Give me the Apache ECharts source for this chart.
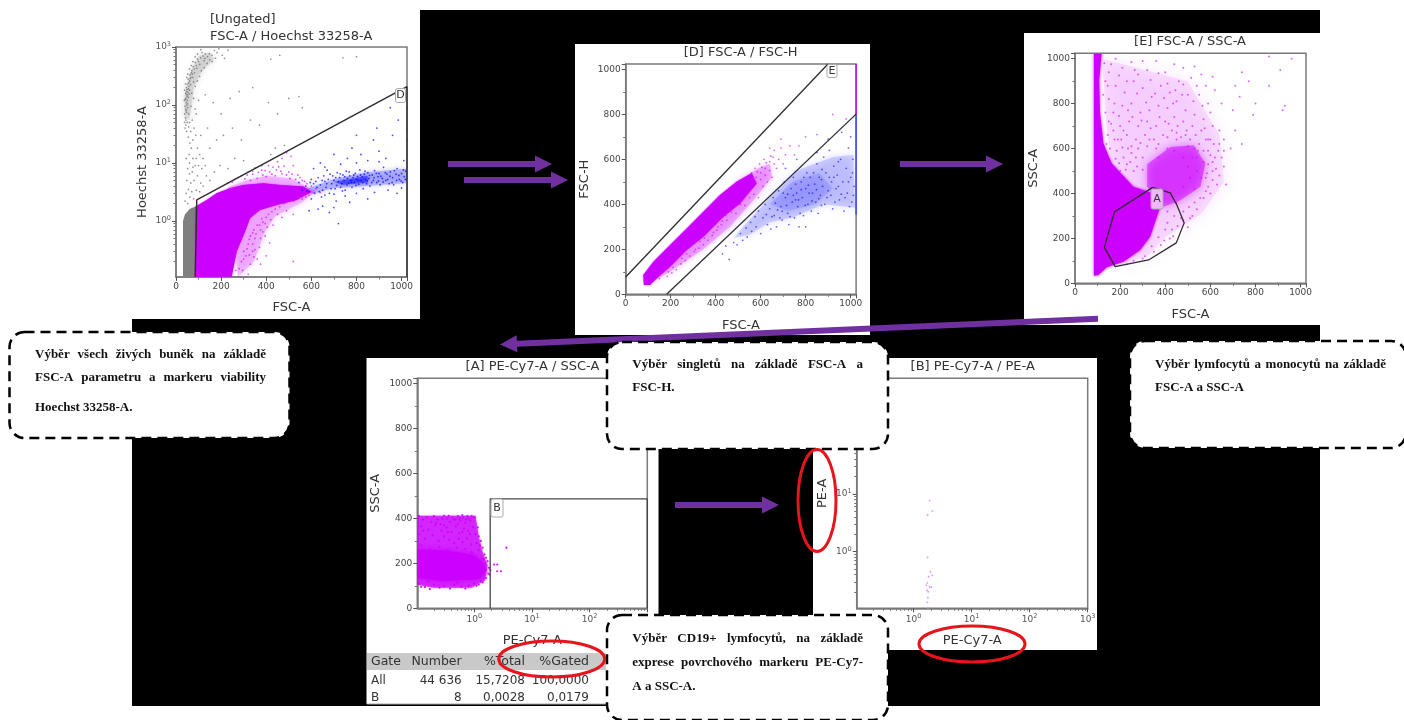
<!DOCTYPE html>
<html><head><meta charset="utf-8">
<style>html,body{margin:0;padding:0;background:#fff}#c{width:1404px;height:720px;filter:blur(.45px)}</style>
<script src="https://cdn.jsdelivr.net/npm/echarts@6/dist/echarts.min.js"></script></head>
<body><div id="c"></div>
<script>
/* ---------- values ---------- */
const linearTicks=[0,200,400,600,800,1000];
const tableHeader=['Gate','Number','%Total','%Gated'];
const tableRows=[['All','44 636','15,7208','100,0000'],['B','8','0,0028','0,0179']];

/* panel 1: FSC-A / Hoechst */
const p1GrayCore=[[31,.108],[31,1],[40,1.3],[60,1.6],[88,1.8],[88,.108]];
const p1GrayHalo=[[38,60],[60,55],[80,200],[115,380],[170,620],[150,800],[100,700],[62,350],[38,150]];
const p1Magenta=[[87,1.77],[136,2.3],[180,3],[239,3.66],[298,4.18],[387,4.46],[461,4.18],[564,3.91],[601,3.2],[535,2.3],[446,1.89],[372,1.55],[328,1.11],[306,.655],[269,.296],[247,.11],[84,.108]];
const p1MagentaHalo=[[230,3.8],[310,5],[400,6],[510,5.4],[620,3.3],[560,2.1],[440,1.2],[395,.65],[345,.2],[275,.108]];
const p1BlueHalo=[[570,3.5],[700,5.3],[850,7],[1024,8],[1024,4.5],[850,4],[700,3.7],[600,2.9]];
const p1BlueCore=[[700,4.7],[850,6],[850,4.6],[740,4.2]];
const p1Gate=[[85,.108],[92,2.3],[1024,207],[1024,.108]];
const p1GrayPts=[[42,60],[45,80],[48,100],[40,95],[50,120],[44,130],[52,150],[47,170],[55,190],[43,160],[58,210],[50,230],[60,260],[54,280],[66,300],[72,340],[62,330],[70,390],[80,420],[76,460],[90,480],[85,540],[100,560],[95,620],[110,650],[120,700],[130,760],[115,800],[140,680],[150,600],[160,720],[175,640],[45,110],[49,140],[53,165],[57,240],[63,285],[68,360],[74,300],[82,360],[92,430],[105,500],[125,580],[60,180],[65,225],[38,70],[41,125],[46,200],[52,90],[56,70],[60,50],[50,50],[44,45],[47,35],[55,28],[62,22],[68,18],[58,14],[45,12],[75,12],[52,8],[60,6.5],[72,7],[85,9],[48,5],[66,4.5],[80,5],[95,6],[110,4.5],[55,3.5],[70,3.2],[90,3.4],[105,3.2],[45,3],[62,2.6],[78,2.4],[40,2.2],[52,2],[120,4],[135,6],[150,5],[170,7],[195,9],[230,8],[260,12],[300,11],[340,7.2],[380,9],[420,14],[440,18],[480,20],[120,12],[150,18],[180,25],[210,30],[250,40],[290,25],[330,55],[370,45],[410,110],[450,70],[500,130],[545,140],[560,90],[140,40],[110,30],[90,70],[100,120],[130,150],[165,110],[200,70],[240,130],[280,170],[340,200],[420,620],[460,720],[800,680],[740,650],[110,900],[190,930],[40,40],[47,75],[51,105],[43,85],[46,150],[55,135],[49,185],[59,155],
 [75,25],[88,30],[65,35],[80,40],[95,18],[105,14],[60,10],[90,12],[115,8],[75,8.5],[130,9],[100,9],[56,42],[72,55],[85,85],[66,95],[78,130],[70,160],[85,210],[95,260],[78,250],[105,310],[112,390],[125,440],[138,520],[160,560],[128,640],[148,760],[182,800],[205,720],[215,640],[230,880],[170,870],[95,760],[85,680],[75,560],[68,480],[60,420],[52,340],[48,300],[42,230],[38,180],[37,120],[44,55],[38,50]];
const p1MagentaPts=[[230,4.5],[260,5.2],[290,6],[320,7],[350,8.2],[380,7.5],[410,9],[430,8.5],[450,10.5],[470,12],[490,15],[510,13],[520,9],[500,7],[470,6.5],[440,6],[400,5.8],[360,5.4],[330,5],[540,6.2],[560,5],[580,4.4],[600,4],[620,3.6],[640,3.1],[590,2.8],[560,2.4],[520,2.2],[480,2],[440,1.6],[410,1.3],[380,1.1],[360,.85],[345,.7],[330,.55],[320,.4],[300,.3],[290,.2],[280,.15],[340,.3],[360,.22],[350,.5],[375,.7],[395,.9],[420,1.05],[450,1.3],[490,1.5],[340,.4],[310,.25],[330,.18],[370,.35],[400,.25],[395,.55],[520,.2],[1024,90],[1024,40],[1024,25],
 [250,4.7],[275,5.6],[305,5.3],[315,6.2],[340,6.4],[365,6.9],[385,6.2],[395,7.4],[415,7],[425,6.4],[445,7.6],[455,8.6],[465,7.2],[480,8.8],[490,6.2],[505,5.4],[515,6.4],[530,5.2],[550,5.6],[570,4.8],[610,3.1],[575,2.6],[545,2.7],[505,2.5],[460,1.75],[425,1.45],[400,1.15],[385,.95],[370,.85],[355,.6],[340,.62],[325,.48],[315,.33],[300,.22],[265,.14],[295,.14],[325,.26],[345,.24],[375,.5],[385,.65],[405,.78],[430,.85],[470,1.15],[520,1.3],[350,.32],[375,.18],[415,.42],[320,.12]];
const p1BluePts=[[545,4.6],[560,3.4],[575,4],[590,3.2],[600,5.2],[610,4.4],[615,3],[625,3.8],[630,5.6],[640,4.2],[645,2.6],[650,3.4],[655,6],[660,4.8],[665,3.8],[670,7.5],[675,5.2],[680,3],[690,4.4],[695,6],[700,5],[705,3.6],[710,2.2],[715,6.8],[720,4.8],[725,5.6],[730,3.8],[735,4.4],[740,6.2],[745,5],[750,3.4],[755,7.2],[760,5.4],[765,4.5],[770,6],[775,5],[780,3.8],[785,5.6],[790,4.6],[795,6.6],[800,5.2],[805,5.8],[810,4.3],[815,7.6],[820,5],[825,5.8],[830,3.6],[835,6.4],[840,5.2],[845,4.4],[850,6.8],[855,5.4],[860,4],[870,6.2],[875,5],[880,7.4],[890,4.6],[895,5.8],[900,6.6],[905,4.2],[915,5.4],[920,8.4],[930,5],[935,6.4],[945,4.4],[950,7],[960,5.6],[965,4.2],[975,6.4],[980,8],[990,5.2],[1000,6.6],[1005,4.6],[1012,5.8],[1018,7.2],[700,14],[640,10],[610,8],[760,12],[780,18],[820,14],[850,11],[875,25],[900,16],[930,12],[960,30],[985,55],[950,90],[890,40],[800,30],[700,1.7],[680,1.4],[650,1.8],[720,.9],[590,1.5],[630,1.6],[770,2.1],[850,2.4],[980,3],
 [580,3.3],[595,4.6],[620,4.8],[635,3.2],[648,5],[668,4.4],[683,6.4],[688,3.6],[708,5.6],[712,4.1],[728,6.5],[738,3.3],[748,5.8],[758,4.2],[768,7],[778,4.6],[788,6.2],[798,4.1],[808,5],[818,6.2],[828,4.6],[838,7.2],[848,4.9],[858,6.1],[868,4.6],[878,5.6],[888,6.6],[898,4.9],[908,5.9],[918,4.7],[928,6.8],[938,5.2],[948,5.9],[958,4.6],[968,7.4],[978,5],[988,6.1],[998,4.9],[1008,7.6],[1016,5.2],[600,2.4],[660,2.8],[700,2.9],[750,2.7],[800,3],[880,3.1],[940,3.4],[1000,3.7],[660,8.5],[730,9.5],[800,10],[900,10.5],[1010,11]];

/* panel 2: FSC-A / FSC-H */
const p2GateUpper=[[0,77],[899,1024]];
const p2GateLower=[[182,0],[1024,801]];
const p2EdgeMagenta=[[1024,1024],[1024,800]];
const p2EdgeBlue=[[1024,800],[1024,355]];
const p2Core=[[78,86],[123,145],[197,219],[271,293],[345,367],[419,441],[493,500],[560,538],[582,493],[508,404],[434,345],[345,256],[271,197],[197,123],[138,71],[108,41],[81,41]];
const p2Halo=[[100,45],[197,100],[345,200],[464,300],[570,420],[650,520],[640,580],[590,560],[500,505]];
const p2BlueHalo=[[480,250],[540,320],[640,430],[760,550],[920,610],[1012,620],[1020,385],[880,400],[740,340],[640,320],[550,265]];
const p2BlueCore=[[640,400],[740,500],[860,540],[920,470],[840,400],[720,370]];
const p2MagentaPts=[[150,70],[170,110],[190,100],[210,120],[230,165],[250,160],[270,180],[290,215],[310,200],[330,235],[350,250],[370,290],[390,275],[410,300],[430,325],[450,330],[470,365],[490,360],[510,400],[530,395],[550,430],[570,445],[590,430],[610,480],[630,500],[650,520],[620,560],[640,590],[600,540],[580,520],[660,640],[690,650],[710,620],[770,660],[800,700],[850,710],[920,800],[980,780],[730,660],[750,620],[700,580],[670,560],[690,690],[640,650],[560,540],[575,560],[595,580],[615,600],[655,610],[680,600],
 [600,510],[620,530],[640,550],[660,580],[585,545],[605,565],[625,585],[645,615],[565,515],[545,470],[525,450],[505,420],[485,395],[465,375],[445,350],[425,310],[405,285],[385,262],[365,240],[345,220],[325,205],[305,190],[285,170],[265,150],[245,135],[225,110],[205,95],[185,80]];
const p2BluePts=[[430,180],[445,215],[460,155],[480,230],[495,220],[510,270],[520,240],[535,295],[540,255],[555,320],[560,280],[575,345],[580,300],[590,370],[600,270],[610,340],[620,400],[630,310],[640,380],[645,290],[655,430],[660,350],[670,300],[680,460],[690,390],[695,330],[705,500],[710,430],[720,360],[725,310],[735,470],[740,410],[745,520],[750,340],[760,450],[765,390],[770,300],[780,500],[785,430],[790,350],[800,470],[805,540],[810,400],[820,520],[825,370],[830,450],[840,490],[845,410],[850,580],[855,360],[860,520],[865,440],[875,480],[880,610],[885,400],[890,540],[900,460],[905,640],[915,500],[920,380],[925,570],[935,470],[940,530],[950,420],[955,600],[965,500],[970,370],[980,560],[985,450],[990,650],[1000,520],[1005,410],[1010,600],[1015,480],[900,690],[960,720],[1000,700],[850,630],[800,300],[710,560],[760,600],
 [625,355],[650,345],[665,405],[675,375],[685,340],[700,450],[715,395],[730,345],[745,440],[755,490],[768,420],[775,360],[792,520],[798,395],[815,450],[828,415],[835,540],[848,465],[858,425],[870,395],[872,555],[895,430],[905,520],[912,440],[930,410],[945,480],[958,445],[975,430],[990,500],[995,390],[1012,440],[1008,540],[945,590],[925,520],[870,510],[812,485],[780,465],[755,420],[720,445],[695,370]];

/* panel 3: FSC-A / SSC-A */
const p3Core=[[84,34],[84,1022],[118,1022],[107,904],[111,756],[126,622],[163,533],[259,430],[348,400],[393,385],[378,341],[348,252],[333,207],[289,148],[215,96],[141,71],[104,37]];
const p3UpperBlob=[[320,530],[422,607],[526,615],[578,533],[556,430],[467,370],[393,341],[320,430]];
const p3Halo=[[120,1000],[500,900],[640,660],[660,450],[560,310],[393,200],[333,130],[215,80],[140,700]];
const p3Gate=[[344,427],[422,403],[452,348],[484,269],[449,180],[326,104],[178,74],[130,160],[175,318],[344,427]];
const p3Pts=[[130,980],[150,940],[180,1000],[210,960],[250,985],[280,930],[320,950],[360,990],[400,940],[440,975],[480,960],[530,965],[560,930],[610,920],[710,880],[860,1010],[960,1000],[910,950],[860,880],[740,940],[770,900],[730,830],[930,790],[920,770],[800,800],[790,750],[700,770],[660,640],[690,600],[740,620],[710,680],[650,800],[620,860],[590,800],[540,880],[500,840],[460,900],[420,850],[380,880],[340,830],[300,870],[260,900],[220,850],[180,880],[150,820],[135,760],[170,760],[210,790],[250,800],[290,760],[330,770],[370,790],[410,780],[450,810],[490,770],[530,750],[570,730],[610,700],[640,680],[600,640],[560,680],[520,700],[480,720],[440,740],[400,720],[360,700],[320,720],[280,700],[240,720],[200,700],[170,680],[145,660],[190,640],[230,660],[270,640],[310,660],[350,640],[390,660],[430,680],[470,650],[510,640],[550,620],[590,590],[620,560],[660,520],[640,480],[670,440],[610,500],[590,430],[570,380],[540,330],[510,290],[480,320],[590,530],[560,470],[530,420],[155,600],[185,590],[215,560],[250,580],[280,600],[320,610],[360,600],[200,500],[230,530],[260,500],[500,250],[520,300],[470,290],[400,240],[420,200],[380,170],[350,140],[310,120],[600,400],[630,440],[650,560],[580,640],[540,560],[500,610],[450,640],[410,600],[370,560],[300,560],[270,560],[235,600],[540,500],[510,470],[480,430],[450,360],[440,300],[410,320],[580,470],[610,540],[480,560],[440,590],[150,720],[125,840],[135,900],[175,800],[205,640],
 [145,880],[160,975],[195,925],[230,900],[265,950],[300,990],[335,905],[370,935],[410,890],[445,860],[480,885],[515,915],[550,840],[580,880],[600,760],[565,790],[525,810],[475,840],[435,800],[395,825],[355,845],[315,805],[275,845],[235,770],[195,745],[160,710],[140,620],[175,640],[215,680],[255,740],[295,725],[335,690],[375,740],[415,710],[455,700],[495,680],[535,660],[575,690],[615,620],[635,590],[600,570],[570,540],[530,600],[490,660],[450,670],[410,650],[370,620],[330,640],[290,625],[250,610],[210,605],[180,555],[195,535],[225,505],[245,540],[275,520],[300,505],[580,410],[555,380],[530,360],[505,340],[480,280],[455,255],[430,240],[410,270],[435,210],[395,190],[370,205],[340,165],[300,110],[260,100],[230,85],[610,460],[625,510],[585,490],[570,590],[520,560],[545,590],[500,520],[590,640],[640,620],[660,590]];

/* panel 4: PE-Cy7-A / SSC-A */
const p4Core=[[.103,262],[.291,258],[.96,240],[1.4,205],[1.65,170],[1.25,130],[.291,122],[.103,135]];
const p4Halo=[[.103,412],[1.05,412],[1.2,320],[1.4,250],[1.7,190],[1.55,125],[.9,92],[.2,92],[.103,105]];
const p4Gate=[[1.89,0],[1.89,487],[1000,487],[1000,0]];
const p4Pts=[[.11,410],[.13,395],[.15,405],[.18,385],[.2,410],[.23,395],[.26,375],[.3,412],[.34,400],[.38,385],[.42,405],[.47,395],[.52,410],[.58,390],[.65,405],[.72,395],[.8,400],[.9,410],[1,405],[.12,365],[.16,350],[.21,370],[.27,345],[.33,360],[.4,340],[.48,365],[.55,335],[.66,355],[.78,345],[.95,360],[1.05,330],[1.2,320],[1.3,300],[.11,330],[.14,310],[.19,325],[.24,300],[.3,320],[.37,305],[.45,290],[.54,310],[.63,295],[.75,310],[.88,285],[1.1,290],[.12,280],[.17,265],[.25,275],[.35,260],[.5,270],[.7,265],[.9,250],[1.2,260],[1.4,270],[1.5,240],[1.6,225],[1.7,210],[1.8,180],[1.9,170],[2.2,195],[2.5,165],[2.9,165],[3.6,270],[2.5,195],[1.85,150],[1.6,135],[1.3,120],[1,110],[.8,100],[.6,95],[.45,105],[.3,98],[.2,105],[.14,95],[.11,110],[.16,120],[.5,115],[.9,130],[1.2,105],
 [.28,400],[.36,412],[.44,395],[.56,400],[.62,415],[.76,410],[.85,390],[.22,380],[.3,370],[.52,375],[.7,380],[.13,345],[.35,340],[.62,340],[.84,330],[1.15,360],[1.25,280],[1.45,220],[1.55,200],[1.75,155],[1.4,115],[1.1,100],[.7,88],[.38,88],[.25,92],[.17,85],[.12,95]];

/* panel 5: PE-Cy7-A / PE-A */
const p5Pts=[[1.89,7.66],[2.11,5.07],[1.75,4.32],[1.75,.8],[1.95,.45],[2.11,.39],[1.82,.37],[1.73,.29],[1.66,.265],[1.89,.247],[2.03,.244],[1.7,.216],[1.79,.203],[1.77,.16],[1.73,.133],[1.77,.107],[1.84,.104],[3.6,.104]];

/* ---------- styling ---------- */
const MAG='#cc00ff',BLUE='#0000ff',GRAY='#808080',INK='#333',FONT='"DejaVu Sans"',PURPLE='#7030a0',RED='#e8141c';
const grids=[
 {left:176,top:47,width:231,height:230},
 {left:625.7,top:64,width:230.4,height:230.3},
 {left:1075,top:53.3,width:231,height:230},
 {left:417.3,top:378.3,width:230,height:230},
 {left:856.7,top:378.3,width:231,height:230}
].map(g=>({...g,show:true,borderColor:'#7a7a7a',borderWidth:1.5,backgroundColor:'transparent',containLabel:false}));
const majors=[1,10,100,1000];
const minors=[];[.1,1,10,100].forEach(d=>[2,3,4,5,6,7,8,9].forEach(m=>minors.push(+(m*d).toFixed(3))));
const powFmt=v=>`{b|10}{s|${Math.round(Math.log10(v))}}`;
const rich={b:{fontSize:9,color:'#555',fontFamily:FONT},s:{fontSize:6.5,color:'#555',fontFamily:FONT,verticalAlign:'bottom',padding:[0,0,5,0]}};
const nameStyle={fontFamily:FONT,fontSize:13,color:INK};
function linAxis(g,name,gap){return {type:'value',gridIndex:g,min:0,max:1024,interval:200,name,nameLocation:'middle',nameGap:gap,nameTextStyle:nameStyle,
  splitLine:{show:false},axisLine:{onZero:false,lineStyle:{color:'#7a7a7a',width:1.5}},axisTick:{length:4,lineStyle:{color:'#555'}},minorTick:{show:true,splitNumber:2,length:2.5,lineStyle:{color:'#777'}},
  axisLabel:{fontFamily:FONT,fontSize:9,color:'#444',margin:5,showMaxLabel:true,formatter:v=>linearTicks.includes(v)?String(v):''}};}
function logAxis(g,name,gap,min,labels){return {type:'log',logBase:10,gridIndex:g,min,max:1000,name,nameLocation:'middle',nameGap:gap,nameTextStyle:nameStyle,
  splitLine:{show:false},axisLine:{onZero:false,lineStyle:{color:'#7a7a7a',width:1.5}},axisTick:{length:4,customValues:majors,lineStyle:{color:'#555'}},minorTick:{show:false},
  axisLabel:{customValues:labels,formatter:powFmt,rich,margin:5}};}
function minorAxis(g,min,pos){return {type:'log',logBase:10,gridIndex:g,min,max:1000,position:pos,offset:0,splitLine:{show:false},axisLine:{show:false,onZero:false},
  axisTick:{length:2.5,customValues:minors.filter(v=>v>=min),lineStyle:{color:'#777'}},axisLabel:{show:false}};}
const xAxis=[linAxis(0,'FSC-A',24.5),linAxis(1,'FSC-A',25),linAxis(2,'FSC-A',25),logAxis(3,'PE-Cy7-A',26,.103,[1,10,100]),logAxis(4,'PE-Cy7-A',26,.105,majors),minorAxis(3,.103,'bottom'),minorAxis(4,.105,'bottom')];
const yAxis=[logAxis(0,'Hoechst 33258-A',27,.108,majors),linAxis(1,'FSC-H',35),linAxis(2,'SSC-A',35),linAxis(3,'SSC-A',35),logAxis(4,'PE-A',28,.105,[1,10]),minorAxis(0,.108,'left'),minorAxis(4,.105,'left')];
function blob(g,pts,color,opacity,soft=0){return {type:'custom',xAxisIndex:g,yAxisIndex:g,data:pts,clip:true,silent:true,encode:{x:0,y:1},z:2,
  renderItem:(p,api)=>p.dataIndex===0?{type:'polygon',shape:{points:pts.map(q=>api.coord(q))},style:{fill:color,opacity,shadowBlur:soft,shadowColor:color}}:null};}
function dots(g,pts,color,size,opacity){return {type:'scatter',xAxisIndex:g,yAxisIndex:g,data:pts,symbolSize:size,silent:true,z:3,itemStyle:{color,opacity}};}
function path(g,pts,color,width,clip){return {type:'line',xAxisIndex:g,yAxisIndex:g,data:pts,showSymbol:false,symbol:'none',silent:true,clip:!!clip,z:4,lineStyle:{color,width}};}
const series=[
 blob(0,p1GrayHalo,GRAY,.22,7),dots(0,p1GrayPts,'#777',1.7,.8),blob(0,p1GrayCore,GRAY,1),
 blob(0,p1BlueHalo,BLUE,.2,6),blob(0,p1BlueCore,BLUE,.4,4),dots(0,p1BluePts,BLUE,1.8,.7),
 blob(0,p1MagentaHalo,MAG,.2,7),blob(0,p1Magenta,MAG,1,1.5),dots(0,p1MagentaPts,MAG,1.8,.65),path(0,p1Gate,'#2d2d2d',1.4),
 blob(1,p2BlueHalo,BLUE,.14,8),blob(1,p2BlueCore,BLUE,.1,10),dots(1,p2BluePts,BLUE,1.8,.6),blob(1,p2Halo,MAG,.25,6),blob(1,p2Core,MAG,1,1.5),dots(1,p2MagentaPts,MAG,1.8,.6),
 path(1,p2EdgeMagenta,MAG,1.5),path(1,p2EdgeBlue,'#3a50ff',1.5),path(1,p2GateUpper,'#2d2d2d',1.3),path(1,p2GateLower,'#2d2d2d',1.3),
 blob(2,p3Halo,MAG,.1,18),blob(2,p3UpperBlob,MAG,.5,10),blob(2,p3Core,MAG,1,3),dots(2,p3Pts,MAG,2,.6),path(2,p3Gate,'#2d2d2d',1.3),
 blob(3,p4Halo,MAG,.62,2),blob(3,p4Core,MAG,1,7),dots(3,p4Pts,MAG,2.2,.9),path(3,p4Gate,'#444',1.3),
 dots(4,p5Pts,'#e080ff',1.8,.9)
];
series.forEach(s=>s.animation=false);

/* titles */
const tStyle={fontFamily:FONT,fontSize:13,fontWeight:'normal',color:INK};
const title=[
 {text:'[Ungated]\nFSC-A / Hoechst 33258-A',left:210,top:11,padding:0,itemGap:0,textStyle:{...tStyle,lineHeight:17}},
 {text:'[D] FSC-A / FSC-H',left:740.7,top:46,padding:0,textAlign:'center',textStyle:tStyle},
 {text:'[E] FSC-A / SSC-A',left:1190,top:35,padding:0,textAlign:'center',textStyle:tStyle},
 {text:'[A] PE-Cy7-A / SSC-A',left:532.5,top:360,padding:0,textAlign:'center',textStyle:tStyle},
 {text:'[B] PE-Cy7-A / PE-A',left:972.7,top:360,padding:0,textAlign:'center',textStyle:tStyle}
];

/* overlays */
const g=[];
const rect=(x,y,w,h,fill,z,extra={})=>g.push({type:'rect',silent:true,z,shape:{x,y,width:w,height:h,r:extra.r||0},style:{fill,stroke:extra.stroke||null,lineWidth:extra.lw||0,lineDash:extra.dash||null}});
rect(132,10,1188,696,'#000',-10);
[[132,10,288,309],[575,44,295,291],[1024,33,296,292],[366.5,358,292,346],[813,358,284,292]].forEach(a=>rect(...a,'#fff',-9));
rect(367,653,239,17,'#c9c9c9',-8);
rect(367,703.5,239,1,'#aaa',-8);
[[371,'left'],[461.7,'right'],[525,'right'],[589,'right']].forEach(([x,al],c)=>{
  const t=(s,y,fs)=>g.push({type:'text',silent:true,z:9,style:{text:s,x,y,align:al,verticalAlign:'middle',fontFamily:FONT,fontSize:fs,fill:'#333'}});
  t(tableHeader[c],662,12.5);t(tableRows[0][c],680.5,12);t(tableRows[1][c],697.5,12);});
function arrow(tail,tip,sw=6,hw=17,hl=17){const dx=tip[0]-tail[0],dy=tip[1]-tail[1],L=Math.hypot(dx,dy),ux=dx/L,uy=dy/L,nx=-uy,ny=ux,bx=tip[0]-ux*hl,by=tip[1]-uy*hl;
  g.push({type:'polygon',silent:true,z:40,shape:{points:[[tail[0]+nx*sw/2,tail[1]+ny*sw/2],[bx+nx*sw/2,by+ny*sw/2],[bx+nx*hw/2,by+ny*hw/2],tip,[bx-nx*hw/2,by-ny*hw/2],[bx-nx*sw/2,by-ny*sw/2],[tail[0]-nx*sw/2,tail[1]-ny*sw/2]]},style:{fill:PURPLE}});}
arrow([448,164],[552,164]);arrow([464,180],[568,180]);arrow([900,164],[1003,164]);arrow([675,505],[779,505]);arrow([1098,318.7],[500,344.5]);
function gateTag(x,y,w,h,s,fill){g.push({type:'rect',silent:true,z:8,shape:{x:x-w/2,y:y-h/2,width:w,height:h,r:2},style:{fill,stroke:'#aaa',lineWidth:1}});
  g.push({type:'text',silent:true,z:9,style:{text:s,x,y,align:'center',verticalAlign:'middle',fontFamily:FONT,fontSize:11,fill:'#333'}});}
gateTag(400.5,95.5,10,14,'D','#fff');gateTag(832,71,10,13,'E','#fff');gateTag(1157,199,12,20,'A','#efb6fb');gateTag(497,508,12,18,'B','#fff');
[[9.5,332,280,106],[607,342,281,107],[1130,341,276,107],[607,615,281,105]].forEach(a=>rect(...a,'#fff',50,{r:15,stroke:'#000',lw:2.5,dash:[10,6]}));
const ctx=document.createElement('canvas').getContext('2d');const CF='bold 13px "Liberation Serif"';ctx.font=CF;
function line(s,x0,x1,y){const w=s.split(' ');if(x1===null){g.push(txt(s,x0,y));return;}
  const sum=w.reduce((a,b)=>a+ctx.measureText(b).width,0),gap=(x1-x0-sum)/(w.length-1);let x=x0;w.forEach(q=>{g.push(txt(q,x,y));x+=ctx.measureText(q).width+gap;});}
function txt(s,x,y){return {type:'text',silent:true,z:51,style:{text:s,x,y,align:'left',verticalAlign:'middle',font:CF,fill:'#111'}};}
line('Výběr všech živých buněk na základě',35,266,355);line('FSC-A parametru a markeru viability',35,266,378);line('Hoechst 33258-A.',35,null,408);
line('Výběr singletů na základě FSC-A a',632.3,863,365);line('FSC-H.',632.3,null,388);
line('Výběr lymfocytů a monocytů na základě',1155,1386,365);line('FSC-A a SSC-A',1155,null,388);
line('Výběr CD19+ lymfocytů, na základě',632.3,863,639);line('exprese povrchového markeru PE-Cy7-',632.3,863,663);line('A a SSC-A.',632.3,null,687);
[[551.7,659,53,18],[817,500.5,19,51],[972,644,53,18]].forEach(([cx,cy,rx,ry])=>g.push({type:'ellipse',silent:true,z:60,shape:{cx,cy,rx,ry},style:{fill:null,stroke:RED,lineWidth:3}}));

const chart=echarts.init(document.getElementById('c'),null,{renderer:'canvas'});
chart.setOption({animation:false,backgroundColor:'#fff',title,grid:grids,xAxis,yAxis,series,graphic:{elements:g},tooltip:{show:false}});
</script></body></html>
